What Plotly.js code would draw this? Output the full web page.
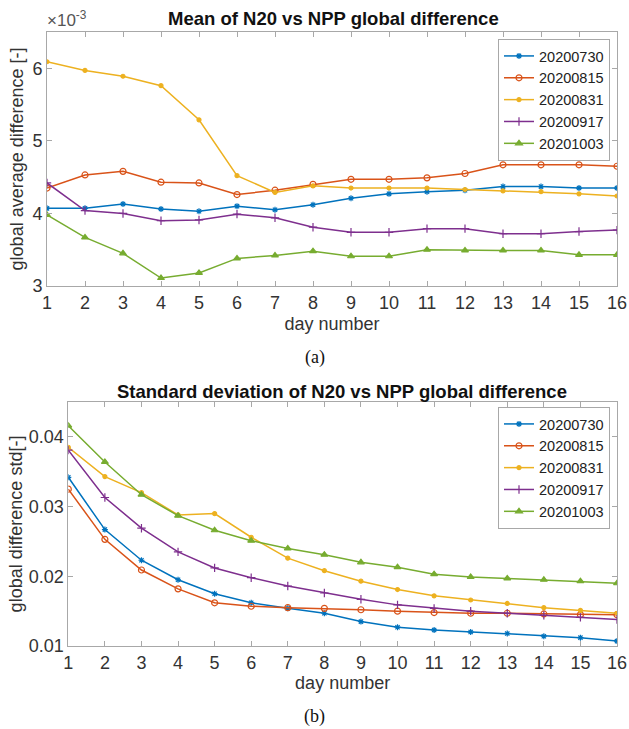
<!DOCTYPE html>
<html>
<head>
<meta charset="utf-8">
<script src="https://cdn.plot.ly/plotly-3.0.1.min.js"></script>
<style>html,body{margin:0;padding:0;background:#fff;}#chart{width:629px;height:729px;}</style>
</head>
<body>
<div id="chart"></div>
<script>
// ---- data ----
const days = [1,2,3,4,5,6,7,8,9,10,11,12,13,14,15,16];
const seriesNames = ['20200730','20200815','20200831','20200917','20201003'];

// Panel (a): mean global difference, in units of 1e-3
const mean20200730 = [4.07,4.07,4.13,4.06,4.03,4.10,4.05,4.12,4.21,4.27,4.30,4.32,4.37,4.37,4.35,4.35];
const mean20200815 = [4.35,4.53,4.58,4.43,4.42,4.26,4.32,4.40,4.47,4.47,4.49,4.55,4.67,4.67,4.67,4.65];
const mean20200831 = [6.09,5.97,5.89,5.76,5.29,4.52,4.29,4.38,4.35,4.35,4.35,4.33,4.31,4.30,4.27,4.24];
const mean20200917 = [4.42,4.04,4.00,3.90,3.91,3.99,3.94,3.81,3.74,3.74,3.79,3.79,3.72,3.72,3.75,3.77];
const mean20201003 = [3.98,3.67,3.45,3.11,3.18,3.38,3.42,3.48,3.41,3.41,3.50,3.49,3.49,3.49,3.43,3.43];

// Panel (b): standard deviation of global difference
const std20200730 = [0.0342,0.0267,0.0223,0.0195,0.0175,0.0162,0.0154,0.0147,0.0135,0.0127,0.0123,0.0120,0.0118,0.0114,0.0112,0.0107];
const std20200815 = [0.0325,0.0253,0.0209,0.0182,0.0162,0.0157,0.0155,0.0154,0.0152,0.0150,0.0148,0.0147,0.0147,0.0146,0.0145,0.0145];
const std20200831 = [0.0385,0.0343,0.0320,0.0288,0.0290,0.0256,0.0226,0.0208,0.0193,0.0181,0.0172,0.0166,0.0161,0.0155,0.0151,0.0147];
const std20200917 = [0.0381,0.0313,0.0269,0.0235,0.0212,0.0198,0.0186,0.0176,0.0167,0.0159,0.0154,0.0150,0.0147,0.0144,0.0141,0.0138];
const std20201003 = [0.0416,0.0364,0.0317,0.0287,0.0266,0.0251,0.0240,0.0231,0.0220,0.0213,0.0203,0.0199,0.0197,0.0195,0.0193,0.0190];

const meanTicks = [3,4,5,6];
const stdTicks = [0.01,0.02,0.03,0.04];
const stdTickText = ['0.01','0.02','0.03','0.04'];

// ---- styles ----
const colors = ['#0072BD','#D95319','#EDB120','#7E2F8E','#77AC30'];
const symbols = ['asterisk-open','circle-open','circle','cross-thin-open','triangle-up'];
const sizes = [5,6,4,6,6];

const meanSeries = [mean20200730,mean20200815,mean20200831,mean20200917,mean20201003];
const stdSeries = [std20200730,std20200815,std20200831,std20200917,std20201003];

const W = 629, H = 729;
const font = 'Liberation Sans, Arial, Helvetica, sans-serif';
const traces = [];
meanSeries.forEach((ys,i)=>{
  traces.push({x:days,y:ys,name:seriesNames[i],type:'scatter',mode:'lines+markers',
    xaxis:'x',yaxis:'y',legend:'legend',
    line:{color:colors[i],width:1.5},
    marker:{symbol:symbols[i],size:sizes[i],color:colors[i],line:{color:colors[i],width:1.2}}});
});
stdSeries.forEach((ys,i)=>{
  traces.push({x:days,y:ys,name:seriesNames[i],type:'scatter',mode:'lines+markers',
    xaxis:'x2',yaxis:'y2',legend:'legend2',
    line:{color:colors[i],width:1.5},
    marker:{symbol:symbols[i],size:sizes[i],color:colors[i],line:{color:colors[i],width:1.2}}});
});

function px(x){return x/W;}
function py(y){return (H-y)/H;}

const axisBase = {
  showline:true, mirror:'ticks', linecolor:'#a8a8a8', linewidth:1,
  ticks:'inside', ticklen:5, tickcolor:'#a8a8a8', showgrid:false, zeroline:false,
  tickfont:{family:font,size:18,color:'#333'}
};
const titleFont = {family:font,size:18,color:'#333'};

const layout = {
  width:W, height:H,
  margin:{l:0,r:0,t:0,b:0},
  paper_bgcolor:'#fff', plot_bgcolor:'#fff',
  font:{family:font,color:'#333'},
  xaxis:Object.assign({},axisBase,{domain:[px(47),px(617)],range:[1,16],tickvals:days,anchor:'y',
    title:{text:'day number',font:titleFont,standoff:5}}),
  yaxis:Object.assign({},axisBase,{domain:[py(286),py(32)],range:[3,6.5],tickvals:meanTicks,anchor:'x',
    title:{text:'global average difference [-]',font:titleFont,standoff:4}}),
  xaxis2:Object.assign({},axisBase,{domain:[px(68.3),px(617)],range:[1,16],tickvals:days,anchor:'y2',
    title:{text:'day number',font:titleFont,standoff:2}}),
  yaxis2:Object.assign({},axisBase,{domain:[py(646),py(402)],range:[0.01,0.045],tickvals:stdTicks,ticktext:stdTickText,anchor:'x2',
    title:{text:'global difference std[-]',font:titleFont,standoff:1}}),
  legend:{x:px(610),xanchor:'right',y:py(39),yanchor:'top',bgcolor:'#fff',bordercolor:'#a8a8a8',borderwidth:1,
    font:{family:font,size:14.5,color:'#222'},itemwidth:30,tracegroupgap:0},
  legend2:{x:px(610),xanchor:'right',y:py(407),yanchor:'top',bgcolor:'#fff',bordercolor:'#a8a8a8',borderwidth:1,
    font:{family:font,size:14.5,color:'#222'},itemwidth:30,tracegroupgap:0},
  annotations:[
    {text:'<b>Mean of N20 vs NPP global difference</b>',xref:'paper',yref:'paper',x:px(333),y:py(18),xanchor:'center',yanchor:'middle',showarrow:false,font:{family:font,size:18.5,color:'#111'}},
    {text:'×10<sup>-3</sup>',xref:'paper',yref:'paper',x:px(45),y:py(19),xanchor:'left',yanchor:'middle',showarrow:false,font:{family:font,size:17,color:'#555'}},
    {text:'(a)',xref:'paper',yref:'paper',x:px(315),y:py(358),xanchor:'center',yanchor:'middle',showarrow:false,font:{family:'Liberation Serif, DejaVu Serif, serif',size:18,color:'#111'}},
    {text:'<b>Standard deviation of N20 vs NPP global difference</b>',xref:'paper',yref:'paper',x:px(342),y:py(391),xanchor:'center',yanchor:'middle',showarrow:false,font:{family:font,size:18.5,color:'#111'}},
    {text:'(b)',xref:'paper',yref:'paper',x:px(314),y:py(716),xanchor:'center',yanchor:'middle',showarrow:false,font:{family:'Liberation Serif, DejaVu Serif, serif',size:18,color:'#111'}}
  ]
};

Plotly.newPlot('chart',traces,layout,{staticPlot:true,displayModeBar:false});
</script>
</body>
</html>
